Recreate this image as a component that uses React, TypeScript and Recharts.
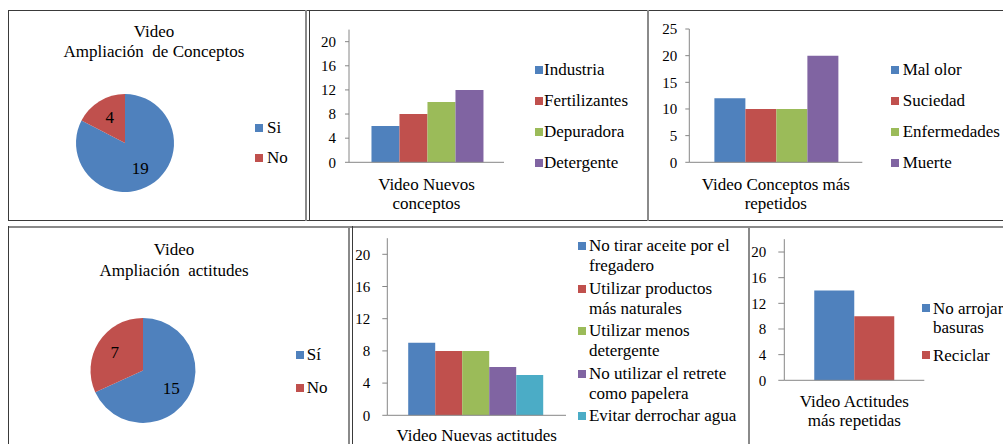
import React from 'react';
import { BarChart, Bar, XAxis, YAxis, PieChart, Pie, Cell, Legend } from 'recharts';

const FONT = '"Liberation Serif", "Times New Roman", serif';
const AXIS = '#868686';
const PALETTE = ['#4F81BD', '#C0504D', '#9BBB59', '#8064A2', '#4BACC6'];
const RAD = Math.PI / 180;

// Video Ampliación de Conceptos
const conceptosPieNames = ['Si', 'No'];
const conceptosPieValues = [19, 4];

// Video Ampliación actitudes
const actitudesPieNames = ['Sí', 'No'];
const actitudesPieValues = [15, 7];

// Video Nuevos conceptos
const nuevosConceptosCategory = 'Video Nuevos\nconceptos';
const nuevosConceptosNames = ['Industria', 'Fertilizantes', 'Depuradora', 'Detergente'];
const nuevosConceptosValues = [6, 8, 10, 12];

// Video Conceptos más repetidos
const repetidosCategory = 'Video Conceptos más\nrepetidos';
const repetidosNames = ['Mal olor', 'Suciedad', 'Enfermedades', 'Muerte'];
const repetidosValues = [12, 10, 10, 20];

// Video Nuevas actitudes
const nuevasActitudesCategory = 'Video Nuevas actitudes';
const nuevasActitudesNames = [
  'No tirar aceite por el\nfregadero',
  'Utilizar productos\nmás naturales',
  'Utilizar menos\ndetergente',
  'No utilizar el retrete\ncomo papelera',
  'Evitar derrochar agua',
];
const nuevasActitudesValues = [9, 8, 8, 6, 5];

// Video Actitudes más repetidas
const actitudesRepCategory = 'Video Actitudes\nmás repetidas';
const actitudesRepNames = ['No arrojar\nbasuras', 'Reciclar'];
const actitudesRepValues = [14, 10];

const ticksBy4 = [0, 4, 8, 12, 16, 20];
const ticksBy5 = [0, 5, 10, 15, 20, 25];

interface Box { left: number; top: number; width: number; height: number; }
interface Plot { x1: number; x2: number; y1: number; y2: number; }
interface LegendSpec { x: number; y: number; pitch: number; lineHeight: number; textGap: number; }

function SeriesLegend({ names, spec }: { names: string[]; spec: LegendSpec }) {
  return (
    <div style={{ position: 'relative', fontFamily: FONT, fontSize: 17, color: '#000' }}>
      {names.map((n, i) => (
        <div
          key={n}
          style={{
            position: 'absolute', left: spec.x, top: spec.y - spec.lineHeight / 2 + i * spec.pitch,
            lineHeight: `${spec.lineHeight}px`, whiteSpace: 'pre',
          }}
        >
          <span style={{ position: 'absolute', left: 0, top: spec.lineHeight / 2 - 4, width: 8, height: 8, background: PALETTE[i] }} />
          <span style={{ position: 'absolute', left: spec.textGap, top: 0 }}>{n}</span>
        </div>
      ))}
    </div>
  );
}

function CategoryTick(props: any) {
  const { x, y, payload, first, step } = props;
  const lines = String(payload.value).split('\n');
  return (
    <text x={x} y={y} textAnchor="middle" fontSize={17} fontFamily={FONT} fill="#000">
      {lines.map((l: string, i: number) => (
        <tspan key={i} x={x} dy={i === 0 ? first : step}>{l}</tspan>
      ))}
    </text>
  );
}

interface BarPanelProps {
  frame: Box; plot: Plot; yAxisWidth: number;
  category: string; names: string[]; values: number[];
  domain: [number, number]; ticks: number[];
  tickSize: number; tickMargin: number;
  gap: string; labelFirst: number; labelStep: number;
  legend: LegendSpec;
}

function BarPanel(p: BarPanelProps) {
  const { frame, plot } = p;
  const row: Record<string, string | number> = { category: p.category };
  p.values.forEach((v, i) => { row[`s${i}`] = v; });
  const margin = {
    left: plot.x1 - frame.left - p.yAxisWidth,
    right: frame.left + frame.width - plot.x2,
    top: plot.y1 - frame.top,
    bottom: frame.top + frame.height - plot.y2 - 20,
  };
  return (
    <div style={{ position: 'absolute', left: frame.left, top: frame.top }}>
      <BarChart width={frame.width} height={frame.height} data={[row]} margin={margin} barCategoryGap={p.gap} barGap={0}>
        {/* small marks at both ends of the category axis, as in Excel */}
        <XAxis
          xAxisId="edge" type="number" domain={[0, 1]} ticks={[0, 1]} height={0}
          axisLine={false} tick={false} tickLine={{ stroke: AXIS }} tickSize={4}
        />
        <XAxis
          dataKey="category" height={20} interval={0}
          axisLine={{ stroke: AXIS }} tickLine={false} tickSize={0} tickMargin={0}
          tick={(t: any) => <CategoryTick {...t} first={p.labelFirst} step={p.labelStep} />}
        />
        <YAxis
          width={p.yAxisWidth} domain={p.domain} ticks={p.ticks} interval={0}
          axisLine={{ stroke: AXIS }} tickLine={{ stroke: AXIS }}
          tickSize={p.tickSize} tickMargin={p.tickMargin}
          tick={{ fontSize: 15, fill: '#000', fontFamily: FONT }}
        />
        {p.names.map((n, i) => (
          <Bar key={n} dataKey={`s${i}`} name={n} fill={PALETTE[i]} isAnimationActive={false} />
        ))}
        <Legend
          layout="vertical" align="center" verticalAlign="middle"
          wrapperStyle={{ left: 0, top: 0, width: frame.width, height: 0 }}
          content={() => <SeriesLegend names={p.names} spec={p.legend} />}
        />
      </BarChart>
    </div>
  );
}

interface PiePanelProps {
  frame: Box; cx: number; cy: number; r: number; labelR: number;
  names: string[]; values: number[];
  title: string; titleX: number; titleY: number; titleLine: number;
  legend: LegendSpec;
}

function PiePanel(p: PiePanelProps) {
  const data = p.names.map((n, i) => ({ name: n, value: p.values[i] }));
  const renderLabel = (l: any) => {
    const rr = l.outerRadius * p.labelR;
    const x = l.cx + rr * Math.cos(-l.midAngle * RAD);
    const y = l.cy + rr * Math.sin(-l.midAngle * RAD);
    return (
      <text x={x} y={y} textAnchor="middle" dominantBaseline="central" fontSize={17} fontFamily={FONT} fill="#000">
        {l.value}
      </text>
    );
  };
  return (
    <>
      <div
        style={{
          position: 'absolute', left: p.titleX - 150, top: p.titleY - p.titleLine / 2, width: 300,
          textAlign: 'center', whiteSpace: 'pre', fontFamily: FONT, fontSize: 17, lineHeight: `${p.titleLine}px`,
        }}
      >
        {p.title}
      </div>
      <div style={{ position: 'absolute', left: p.frame.left, top: p.frame.top }}>
        <PieChart width={p.frame.width} height={p.frame.height} margin={{ top: 0, right: 0, bottom: 0, left: 0 }}>
          <Pie
            data={data} dataKey="value" nameKey="name" cx={p.cx} cy={p.cy} outerRadius={p.r}
            startAngle={90} endAngle={-270} stroke="none" labelLine={false} label={renderLabel}
            isAnimationActive={false}
          >
            {data.map((d, i) => <Cell key={d.name} fill={PALETTE[i]} />)}
          </Pie>
          <Legend
            layout="vertical" align="center" verticalAlign="middle"
            wrapperStyle={{ left: 0, top: 0, width: p.frame.width, height: 0 }}
            content={() => <SeriesLegend names={p.names} spec={p.legend} />}
          />
        </PieChart>
      </div>
    </>
  );
}

const line = (left: number, top: number, width: number, height: number, color: string) => (
  <div style={{ position: 'absolute', left, top, width, height, background: color }} />
);

export default function App() {
  const dark = '#3a3a3a';
  const gray = '#8a8a8a';
  return (
    <div style={{ position: 'absolute', left: 0, top: 0, width: 1003, height: 444, overflow: 'hidden', background: '#fff', fontFamily: FONT }}>
      {/* top row frame */}
      {line(8, 10, 995, 1, dark)}
      {line(8, 10, 1, 211, dark)}
      {line(8, 220, 995, 1, dark)}
      {line(305, 10, 2, 211, gray)}
      {line(309, 10, 1, 211, dark)}
      {line(647, 10, 2, 211, gray)}
      {/* bottom row frame */}
      {line(8, 226, 995, 2, gray)}
      {line(8, 226, 1, 218, dark)}
      {line(348, 226, 2, 218, gray)}
      {line(352, 226, 1, 218, dark)}
      {line(748, 226, 2, 218, gray)}

      <PiePanel
        frame={{ left: 9, top: 11, width: 296, height: 208 }}
        cx={116} cy={132} r={49} labelR={0.6}
        names={conceptosPieNames} values={conceptosPieValues}
        title={'Video\nAmpliación  de Conceptos'} titleX={154} titleY={32} titleLine={19.5}
        legend={{ x: 246, y: 117.3, pitch: 30, lineHeight: 20, textGap: 12 }}
      />
      <BarPanel
        frame={{ left: 310, top: 12, width: 337, height: 207 }}
        plot={{ x1: 349, x2: 504, y1: 29.6, y2: 162.3 }} yAxisWidth={30}
        category={nuevosConceptosCategory} names={nuevosConceptosNames} values={nuevosConceptosValues}
        domain={[0, 22]} ticks={ticksBy4} tickSize={4} tickMargin={9}
        gap="14.5%" labelFirst={27.5} labelStep={19.5}
        legend={{ x: 225, y: 58, pitch: 31.1, lineHeight: 20, textGap: 9 }}
      />
      <BarPanel
        frame={{ left: 650, top: 12, width: 353, height: 207 }}
        plot={{ x1: 689.3, x2: 862.3, y1: 29, y2: 162.3 }} yAxisWidth={30}
        category={repetidosCategory} names={repetidosNames} values={repetidosValues}
        domain={[0, 25]} ticks={ticksBy5} tickSize={4} tickMargin={8}
        gap="14.5%" labelFirst={27.5} labelStep={19.5}
        legend={{ x: 241, y: 58, pitch: 31, lineHeight: 20, textGap: 11.7 }}
      />
      <PiePanel
        frame={{ left: 9, top: 229, width: 339, height: 215 }}
        cx={134} cy={141.4} r={52.5} labelR={0.64}
        names={actitudesPieNames} values={actitudesPieValues}
        title={'Video\nAmpliación  actitudes'} titleX={174} titleY={249.5} titleLine={21.5}
        legend={{ x: 287, y: 126.3, pitch: 32.4, lineHeight: 20, textGap: 10.7 }}
      />
      <BarPanel
        frame={{ left: 353, top: 229, width: 395, height: 215 }}
        plot={{ x1: 387.3, x2: 566, y1: 238.2, y2: 415.3 }} yAxisWidth={30}
        category={nuevasActitudesCategory} names={nuevasActitudesNames} values={nuevasActitudesValues}
        domain={[0, 22]} ticks={ticksBy4} tickSize={5} tickMargin={12}
        gap="11.7%" labelFirst={25.7} labelStep={19}
        legend={{ x: 225.3, y: 17, pitch: 42.5, lineHeight: 20, textGap: 10.7 }}
      />
      <BarPanel
        frame={{ left: 751, top: 229, width: 252, height: 215 }}
        plot={{ x1: 784.3, x2: 924.3, y1: 239.2, y2: 380.3 }} yAxisWidth={25}
        category={actitudesRepCategory} names={actitudesRepNames} values={actitudesRepValues}
        domain={[0, 22]} ticks={ticksBy4} tickSize={6} tickMargin={12}
        gap="21.4%" labelFirst={26.7} labelStep={19}
        legend={{ x: 170.7, y: 79, pitch: 47.3, lineHeight: 19, textGap: 11.3 }}
      />
    </div>
  );
}
